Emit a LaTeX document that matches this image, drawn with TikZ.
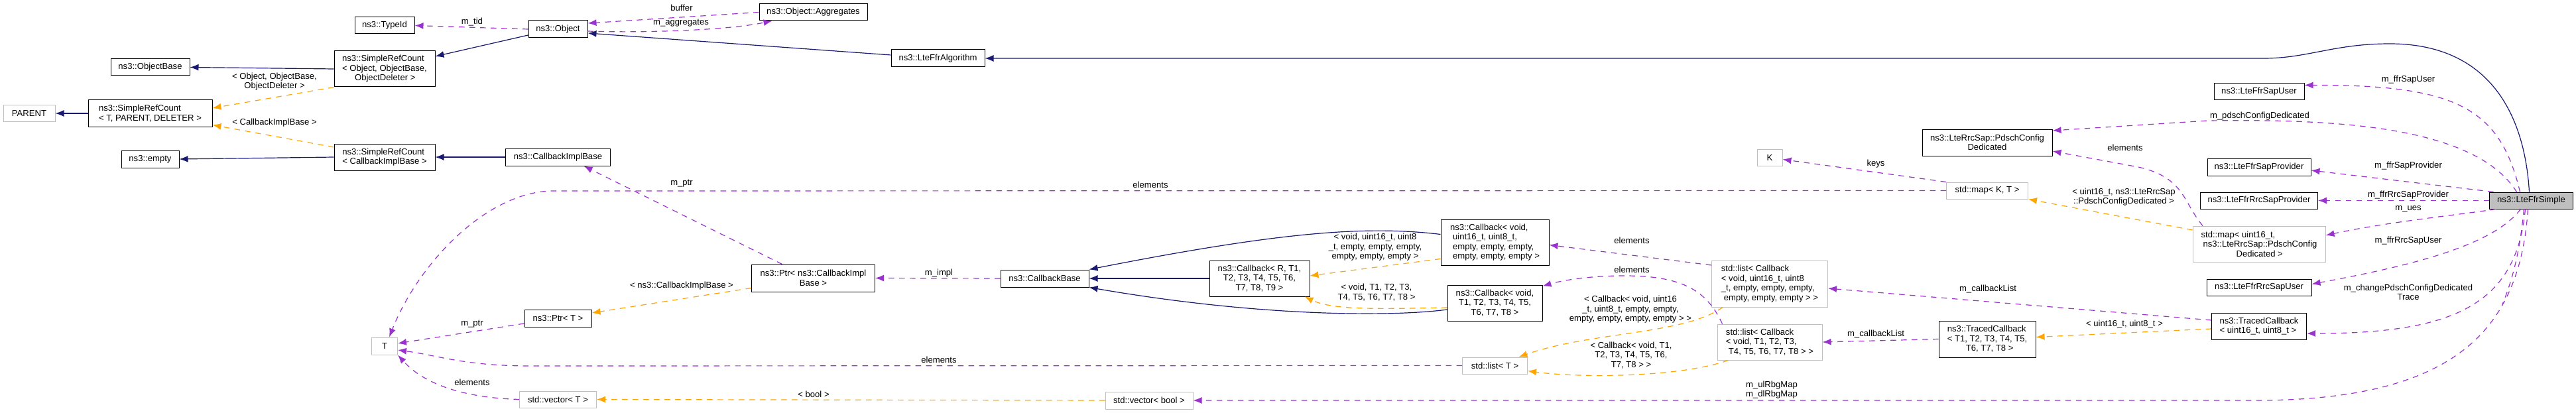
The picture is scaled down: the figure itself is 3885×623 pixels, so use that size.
\documentclass[tikz,border=0pt]{standalone}
\usepackage{fontspec}
\setmainfont{Liberation Sans}
\usepackage{tikz}
\usetikzlibrary{arrows,arrows.meta,positioning}
\newcommand{\dx}{\fontsize{13.1}{14.5}\selectfont}
\definecolor{inhblue}{HTML}{191970}
\definecolor{usepurple}{HTML}{9A32CD}
\definecolor{tplorange}{HTML}{FFA500}
\definecolor{boxgrey}{HTML}{BFBFBF}
\tikzset{
block/.style = {draw=black, fill=white, rectangle, align=center, inner sep=0pt, line width=1pt, font=\dx},
extblock/.style = {block, draw=boxgrey},
selfblock/.style = {block, fill=boxgrey},
lbl/.style = {inner sep=0pt, align=center, font=\dx},
inherit/.style = {->, draw=inhblue, line width=1.2pt},
usage/.style = {->, draw=usepurple, line width=1.2pt, dash pattern=on 8.5pt off 7.5pt},
templ/.style = {->, draw=tplorange, line width=1.2pt, dash pattern=on 8.5pt off 7.5pt},
}
\begin{document}
\begin{tikzpicture}[x=1pt, y=-1pt, node distance=60pt, >={Latex[length=13pt,width=10pt]}]
    \useasboundingbox (0,0) rectangle (3885,623);

    \node [block, minimum width=119pt, minimum height=25pt] (objbase) at (226.5,101.5) {ns3::ObjectBase};
    \node [block, below of = objbase, node distance = 69.5pt, minimum width=187pt, minimum height=40pt, align=left] (srct) {ns3::SimpleRefCount\\< T, PARENT, DELETER >};
    \node [block, below of = srct, node distance = 69pt, minimum width=87pt, minimum height=26pt] (empty) {ns3::empty};
    \node [extblock, left of = srct, node distance = 182.5pt, minimum width=78pt, minimum height=25pt] (parent) {PARENT};

    \node [block, minimum width=90pt, minimum height=25pt] (typeid) at (580,38.5) {ns3::TypeId};
    \node [block, below of = typeid, node distance = 65.5pt, minimum width=152pt, minimum height=54pt, align=left] (srcobj) {ns3::SimpleRefCount\\< Object, ObjectBase,\\\hspace*{19pt}ObjectDeleter >};
    \node [block, below of = srcobj, node distance = 133pt, minimum width=152pt, minimum height=40pt, align=left] (srccib) {ns3::SimpleRefCount\\< CallbackImplBase >};
    \node [extblock, below of = srccib, node distance = 285pt, minimum width=39pt, minimum height=26pt] (T) {T};

    \node [block, minimum width=89pt, minimum height=26pt] (object) at (841.5,44) {ns3::Object};
    \node [block, below of = object, node distance = 193pt, minimum width=158pt, minimum height=26pt] (cib) {ns3::CallbackImplBase};
    \node [block, below of = cib, node distance = 243pt, minimum width=101pt, minimum height=26pt] (ptrt) {ns3::Ptr< T >};
    \node [extblock, below of = ptrt, node distance = 122.5pt, minimum width=116pt, minimum height=25pt] (vect) {std::vector< T >};

    \node [block, minimum width=163pt, minimum height=25pt] (aggr) at (1226.5,18.5) {ns3::Object::Aggregates};
    \node [block, below of = aggr, node distance = 401pt, minimum width=186pt, minimum height=41pt] (ptrcib) {ns3::Ptr< ns3::CallbackImpl\\Base >};
    \node [block, minimum width=141pt, minimum height=26pt] (algo) at (1414.5,88) {ns3::LteFfrAlgorithm};

    \node [block, minimum width=133pt, minimum height=26pt] (cbbase) at (1575.5,420) {ns3::CallbackBase};
    \node [block, right of = cbbase, node distance = 324pt, minimum width=151pt, minimum height=54pt] (cbr) {ns3::Callback< R, T1,\\T2, T3, T4, T5, T6,\\T7, T8, T9 >};
    \node [extblock, minimum width=132pt, minimum height=26pt] (vecbool) at (1733,604) {std::vector< bool >};

    \node [block, minimum width=163pt, minimum height=69pt, align=left] (cbu16) at (2254.5,365.5) {ns3::Callback< void,\\\hspace*{4pt}uint16\_t, uint8\_t,\\\hspace*{4pt}empty, empty, empty,\\\hspace*{4pt}empty, empty, empty >};
    \node [block, below of = cbu16, node distance = 91.5pt, minimum width=143pt, minimum height=54pt] (cbt) {ns3::Callback< void,\\T1, T2, T3, T4, T5,\\T6, T7, T8 >};
    \node [extblock, below of = cbt, node distance = 94.5pt, minimum width=98pt, minimum height=25pt] (lstt) {std::list< T >};

    \node [extblock, minimum width=38pt, minimum height=25pt] (K) at (2669,237.5) {K};
    \node [extblock, below of = K, node distance = 190.5pt, minimum width=175pt, minimum height=70pt, align=left] (lstu16) {std::list< Callback\\< void, uint16\_t, uint8\\\_t, empty, empty, empty,\\\hspace*{4pt}empty, empty, empty > >};
    \node [extblock, below of = lstu16, node distance = 88pt, minimum width=158pt, minimum height=54pt, align=left] (lstcbt) {std::list< Callback\\< void, T1, T2, T3,\\\hspace*{4pt}T4, T5, T6, T7, T8 > >};

    \node [block, minimum width=196pt, minimum height=40pt] (pdsch) at (2997,215) {ns3::LteRrcSap::PdschConfig\\Dedicated};
    \node [extblock, below of = pdsch, node distance = 72.5pt, minimum width=123pt, minimum height=25pt] (mapkt) {std::map< K, T >};
    \node [block, below of = mapkt, node distance = 224pt, minimum width=146pt, minimum height=55pt, align=left] (tcb) {ns3::TracedCallback\\< T1, T2, T3, T4, T5,\\\hspace*{28pt}T6, T7, T8 >};

    \node [block, minimum width=136pt, minimum height=25pt] (sapuser) at (3407,138.5) {ns3::LteFfrSapUser};
    \node [block, below of = sapuser, node distance = 113.5pt, minimum width=156pt, minimum height=26pt] (sapprov) {ns3::LteFfrSapProvider};
    \node [block, below of = sapprov, node distance = 50.5pt, minimum width=177pt, minimum height=25pt] (rrcprov) {ns3::LteFfrRrcSapProvider};
    \node [extblock, below of = rrcprov, node distance = 65.5pt, minimum width=200pt, minimum height=54pt, align=left] (mapu16) {std::map< uint16\_t,\\\hspace*{3pt}ns3::LteRrcSap::PdschConfig\\\hspace*{53pt}Dedicated >};
    \node [block, below of = mapu16, node distance = 65.5pt, minimum width=158pt, minimum height=25pt] (rrcuser) {ns3::LteFfrRrcSapUser};
    \node [block, below of = rrcuser, node distance = 58.5pt, minimum width=143pt, minimum height=40pt, align=left] (tcbu) {ns3::TracedCallback\\< uint16\_t, uint8\_t >};
    \node [selfblock, right of = rrcprov, node distance = 410.5pt, minimum width=126pt, minimum height=25pt] (simple) {ns3::LteFfrSimple};

    \coordinate (rbgmerge) at (3774,459);

    \draw [inherit] (srcobj.west) -- (objbase.east);
    \draw [inherit] (srct.west) -- (parent.east);
    \draw [inherit] (srccib.west) -- (empty.east);
    \draw [inherit] ([yshift=-9pt]object.west) -- ([yshift=19pt]srcobj.east);
    \draw [inherit] (cib.west) -- (srccib.east);
    \draw [inherit] ([yshift=5pt]algo.west) -- ([yshift=-6pt]object.east);
    \draw [inherit] ([xshift=-3pt]simple.north) .. controls (3808,180) and (3760,66) .. (3604,66) .. controls (3520,66) and (3480,88) .. (3414,88) -- (algo.east);
    \draw [inherit] (cbr.west) -- (cbbase.east);
    \draw [inherit] ([yshift=12pt]cbu16.west) .. controls (2060,340) and (1930,350) .. (cbbase.north east);
    \draw [inherit] ([yshift=-10pt]cbt.west) .. controls (2100,478) and (1900,478) .. (cbbase.south east);

    \draw [templ] (srcobj.south west) -- ([yshift=8pt]srct.east);
    \draw [templ] ([yshift=15pt]srccib.west) -- ([yshift=3pt]srct.south east);
    \draw [templ] ([yshift=-15pt]ptrcib.west) -- ([yshift=8pt]ptrt.east);
    \draw [templ] (vecbool.west) -- (vect.east);
    \draw [templ] ([yshift=-25pt]cbu16.west) -- ([yshift=4pt]cbr.east);
    \draw [templ] ([yshift=-7pt]cbt.west) .. controls (2080,466) and (2010,468) .. ([xshift=-8pt]cbr.south east);
    \draw [templ] ([xshift=17pt]lstu16.south west) .. controls (2540,505) and (2400,500) .. ([xshift=36pt]lstt.north);
    \draw [templ] ([xshift=17pt]lstcbt.south west) .. controls (2530,570) and (2380,570) .. ([yshift=-8pt]lstt.east);
    \draw [templ] ([yshift=21pt]mapu16.west) -- (mapkt.south east);
    \draw [templ] ([yshift=-4pt]tcbu.west) -- ([yshift=3pt]tcb.east);

    \draw [usage] (object.west) -- (typeid.east);
    \draw [usage] (aggr.west) -- ([yshift=9pt]object.east);
    \draw [usage] ([yshift=-3pt]object.east) .. controls (980,50) and (1100,45) .. ([xshift=20pt]aggr.south west);
    \draw [usage] ([xshift=-47pt]ptrcib.north) -- ([xshift=39pt]cib.south);
    \draw [usage] (cbbase.west) -- (ptrcib.east);
    \draw [usage] (mapkt.west) -- (830,288) .. controls (730,292) and (630,400) .. ([xshift=7pt]T.north);
    \draw [usage] ([yshift=-8pt]ptrt.west) -- ([yshift=4pt]T.east);
    \draw [usage] (lstt.west) -- (800,552) .. controls (700,552) and (660,536) .. ([yshift=-6pt]T.east);
    \draw [usage] (vect.west) .. controls (700,600) and (640,580) .. (T.south east);
    \draw [usage] ([yshift=28pt]lstu16.west) -- ([yshift=-4pt]cbu16.east);
    \draw [usage] ([xshift=8pt]lstcbt.north west) .. controls (2575,440) and (2540,416) .. (2450,416) .. controls (2400,416) and (2360,422) .. ([yshift=-2pt]cbt.north east);
    \draw [usage] (mapkt.north west) -- ([yshift=-3pt]K.east);
    \draw [usage] ([xshift=-85pt]mapu16.north) .. controls (3292,305) and (3295,268) .. (3225,252) -- ([yshift=-13pt]pdsch.east);
    \draw [usage] ([yshift=9pt]tcbu.west) -- ([yshift=-7pt]lstu16.east);
    \draw [usage] (tcb.west) -- (lstcbt.east);

    \draw [usage] ([xshift=-17pt]simple.north) .. controls (3770,160) and (3700,128) .. ([yshift=10pt]sapuser.east);
    \draw [usage] ([xshift=-22pt]simple.north) .. controls (3730,185) and (3500,180) .. (3330,182) -- ([yshift=18pt]pdsch.east);
    \draw [usage] ([xshift=-57pt]simple.north) -- ([yshift=-5pt]sapprov.east);
    \draw [usage] (simple.west) -- (rrcprov.east);
    \draw [usage] ([xshift=-53pt]simple.south) .. controls (3700,325) and (3600,335) .. ([yshift=13pt]mapu16.east);
    \draw [usage] ([xshift=-16pt]simple.south) .. controls (3760,370) and (3640,400) .. ([yshift=5pt]rrcuser.east);
    \draw [usage] ([xshift=-9pt]simple.south) .. controls (3795,460) and (3700,503) .. ([yshift=-11pt]tcbu.east);
    \draw [usage] ([xshift=-5pt]simple.south) .. controls (3800,500) and (3700,604) .. (3400,604) -- (vecbool.east);
    \draw [usage, -] ([xshift=-11pt]simple.south) .. controls (3800,380) and (3790,420) .. (rbgmerge);

    \node [lbl] (lobjdel) at (414,123) {< Object, ObjectBase,\\ObjectDeleter >};
    \node [lbl] (lcib) at (414,185) {< CallbackImplBase >};
    \node [lbl] (ltid) at (712,33) {m\_tid};
    \node [lbl] (lbuf) at (1028,12) {buffer};
    \node [lbl] (lagg) at (1027,35) {m\_aggregates};
    \node [lbl] (lptrcib) at (1028,277) {m\_ptr};
    \node [lbl] (lptrt) at (712,489) {m\_ptr};
    \node [lbl] (lcibt) at (1028,431) {< ns3::CallbackImplBase >};
    \node [lbl] (limpl) at (1416,412) {m\_impl};
    \node [lbl] (lelmap) at (1735,279) {elements};
    \node [lbl] (lellst) at (1416,543) {elements};
    \node [lbl] (lelvec) at (712,577) {elements};
    \node [lbl] (lbool) at (1227,595) {< bool >};
    \node [lbl] (lvu16) at (2074,373) {< void, uint16\_t, uint8\\\_t, empty, empty, empty,\\empty, empty, empty >};
    \node [lbl] (lvt) at (2076,441) {< void, T1, T2, T3,\\T4, T5, T6, T7, T8 >};
    \node [lbl] (lelcbu) at (2461,363) {elements};
    \node [lbl] (lelcbt) at (2461,407) {elements};
    \node [lbl] (lcbu16) at (2459,467) {< Callback< void, uint16\\\_t, uint8\_t, empty, empty,\\empty, empty, empty, empty > >};
    \node [lbl] (lcbt) at (2460,536) {< Callback< void, T1,\\T2, T3, T4, T5, T6,\\T7, T8 > >};
    \node [lbl] (lkeys) at (2829,247) {keys};
    \node [lbl] (lelpd) at (3205,223) {elements};
    \node [lbl] (lmapu16) at (3203,297) {< uint16\_t, ns3::LteRrcSap\\::PdschConfigDedicated >};
    \node [lbl] (lcbl1) at (2998,436) {m\_callbackList};
    \node [lbl] (lcbl2) at (2829,504) {m\_callbackList};
    \node [lbl] (lu16u8) at (3204,489) {< uint16\_t, uint8\_t >};
    \node [lbl] (lrbg) at (2672,588) {m\_ulRbgMap\\m\_dlRbgMap};
    \node [lbl] (lsapuser) at (3632,120) {m\_ffrSapUser};
    \node [lbl] (lpdsch) at (3408,175) {m\_pdschConfigDedicated};
    \node [lbl] (lsapprov) at (3632,250) {m\_ffrSapProvider};
    \node [lbl] (lrrcprov) at (3632,294) {m\_ffrRrcSapProvider};
    \node [lbl] (lues) at (3632,315) {m\_ues};
    \node [lbl] (lrrcuser) at (3632,363) {m\_ffrRrcSapUser};
    \node [lbl] (lchg) at (3632,441) {m\_changePdschConfigDedicated\\Trace};
\end{tikzpicture}
\end{document}
